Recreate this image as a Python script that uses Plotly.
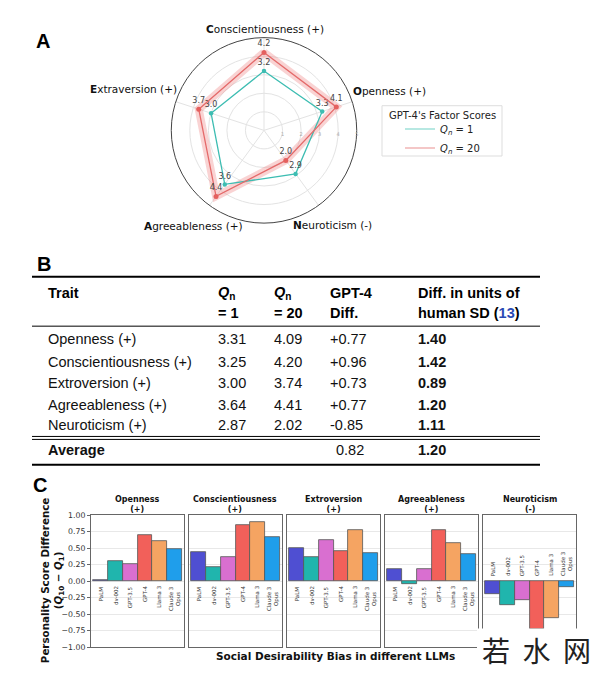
import plotly.graph_objects as go

# Page has an 8px body margin: figure is drawn at page offset (8, 8)
OFF = 8
W, H = 600 - 2 * OFF, 678 - 2 * OFF
def px(x): return (x - OFF) / W
def py(y): return 1 - (y - OFF) / H

# ---------------- Panel A data ----------------
radar_traits = ["Conscientiousness (+)", "Extraversion (+)",
                "Agreeableness (+)", "Neuroticism (-)", "Openness (+)"]
q1_scores = [3.2, 3.0, 3.6, 2.9, 3.3]
q20_scores = [4.2, 3.7, 4.4, 2.0, 4.1]

# ---------------- Panel B data ----------------
table_header_l1 = ["<b>Trait</b>", "<b><i>Q</i><sub>n</sub></b>", "<b><i>Q</i><sub>n</sub></b>",
                   "<b>GPT-4</b>", "<b>Diff. in units of</b>"]
table_header_l2 = ["", "<b>= 1</b>", "<b>= 20</b>", "<b>Diff.</b>",
                   "<b>human SD (</b><span style='color:#2a4bb5'><b>13</b></span><b>)</b>"]
table_traits = ["Openness (+)", "Conscientiousness (+)", "Extroversion (+)",
                "Agreeableness (+)", "Neuroticism (+)"]
table_q1 = [3.31, 3.25, 3.00, 3.64, 2.87]
table_q20 = [4.09, 4.20, 3.74, 4.41, 2.02]
table_diff = [0.77, 0.96, 0.73, 0.77, -0.85]
table_sd = [1.40, 1.42, 0.89, 1.20, 1.11]
avg_diff = 0.82
avg_sd = 1.20

# ---------------- Panel C data ----------------
models = ["PaLM", "dv-002", "GPT-3.5", "GPT-4", "Llama 3", "Claude 3<br>Opus"]
model_colors = ["#4f4fd2", "#20b5ad", "#d96fd0", "#f2605a", "#f5a462", "#1f9eeb"]
facets = ["Openness", "Conscientiousness", "Extroversion", "Agreeableness", "Neuroticism"]
facet_signs = ["(+)", "(+)", "(+)", "(+)", "(-)"]
bias_values = [
    [0.02, 0.30, 0.26, 0.70, 0.61, 0.48],
    [0.44, 0.22, 0.37, 0.85, 0.89, 0.66],
    [0.50, 0.36, 0.62, 0.45, 0.77, 0.43],
    [0.19, -0.04, 0.18, 0.77, 0.57, 0.41],
    [-0.19, -0.36, -0.29, -0.72, -0.56, -0.09],
]
y_ticks = [-1.0, -0.75, -0.5, -0.25, 0.0, 0.25, 0.5, 0.75, 1.0]

DJ = "DejaVu Sans"
HV = "Liberation Sans, Arial, sans-serif"
Q1_COLOR = "#3dbdb2"
Q20_COLOR = "#e4605e"

fig = go.Figure()

# ---------- Radar ----------
theta = radar_traits + [radar_traits[0]]
q1c = q1_scores + [q1_scores[0]]
q20c = q20_scores + [q20_scores[0]]
fig.add_trace(go.Scatterpolar(
    r=q20c, theta=theta, mode="lines", line=dict(color="rgba(240,140,140,0.38)", width=8),
    showlegend=False, hoverinfo="skip"))
fig.add_trace(go.Scatterpolar(
    r=q1c, theta=theta, mode="lines", showlegend=False,
    line=dict(color=Q1_COLOR, width=1.3), hoverinfo="skip"))
fig.add_trace(go.Scatterpolar(
    r=q1_scores, theta=radar_traits, mode="markers+text", showlegend=False,
    marker=dict(size=4.5, color=Q1_COLOR),
    text=[f"{v:.1f}" for v in q1_scores], textposition="top center",
    textfont=dict(size=8, color="#444", family=DJ)))
fig.add_trace(go.Scatterpolar(
    r=q20c, theta=theta, mode="lines", showlegend=False,
    line=dict(color="#e46a6a", width=1.3), hoverinfo="skip"))
fig.add_trace(go.Scatterpolar(
    r=q20_scores, theta=radar_traits, mode="markers+text", showlegend=False,
    marker=dict(size=5, color=Q20_COLOR),
    text=[f"{v:.1f}" for v in q20_scores], textposition="top center",
    textfont=dict(size=8, color="#444", family=DJ)))
# legend entries (line swatches only)
fig.add_trace(go.Scatterpolar(r=[None], theta=[None], mode="lines",
                              name="<i>Q</i><sub><i>n</i></sub> = 1",
                              line=dict(color="#9fe0d8", width=1.5)))
fig.add_trace(go.Scatterpolar(r=[None], theta=[None], mode="lines",
                              name="<i>Q</i><sub><i>n</i></sub> = 20",
                              line=dict(color="#f0b4b4", width=1.5)))

annotations = []
# radar category labels (bold initial letter)
radar_label_pos = [(265, 25), (133, 86), (193, 225), (333, 224), (389, 88)]
for name, (lx, ly) in zip(radar_traits, radar_label_pos):
    annotations.append(dict(
        text=f"<b>{name[0]}</b>{name[1:]}", x=px(lx), y=py(ly), xref="paper", yref="paper",
        showarrow=False, xanchor="center", yanchor="middle",
        font=dict(family=DJ, size=10.5, color="#111")))
# legend title
annotations.append(dict(
    text="GPT-4's Factor Scores", x=px(442), y=py(113), xref="paper", yref="paper",
    showarrow=False, xanchor="center", yanchor="middle",
    font=dict(family=DJ, size=10, color="#222")))

# ---------- Bars ----------
x0, pw, gap = 91, 93, 5
layout_axes = {}
for i, (fac, sign, vals) in enumerate(zip(facets, facet_signs, bias_values)):
    n = i + 1
    xa, ya = f"x{n}", f"y{n}"
    fig.add_trace(go.Bar(
        x=models, y=vals, xaxis=xa, yaxis=ya, showlegend=False,
        marker=dict(color=model_colors, line=dict(color="#555", width=0.8)),
        hoverinfo="skip"))
    left = x0 + i * (pw + gap)
    layout_axes[f"xaxis{n if n > 1 else ''}"] = dict(
        domain=[px(left), px(left + pw)], anchor=ya, range=[-0.65, 5.65],
        showticklabels=False, ticks="", showgrid=False, showline=True, mirror=True,
        linecolor="#666", linewidth=1, zeroline=False, type="category")
    layout_axes[f"yaxis{n if n > 1 else ''}"] = dict(
        domain=[py(652), py(518)], anchor=xa, range=[-1, 1], tickvals=y_ticks,
        tickformat=".2f", showticklabels=(i == 0), ticks="outside" if i == 0 else "",
        ticklen=3, tickcolor="#666", gridcolor="#e8e8e8", gridwidth=1,
        showline=True, mirror=True, linecolor="#666", linewidth=1, zeroline=False,
        tickfont=dict(family=DJ, size=7.8, color="#333"))
    annotations.append(dict(
        text=f"<b>{fac}</b><br><b>{sign}</b>", x=px(left + pw / 2), y=py(518),
        xref="paper", yref="paper", xanchor="center", yanchor="bottom", showarrow=False,
        font=dict(family=DJ, size=8, color="#111"), yshift=-1))
    neg = all(v < 0 for v in vals)
    for m in models:
        annotations.append(dict(
            text=m, x=m, y=0, xref=xa, yref=ya, textangle=-90, showarrow=False,
            xanchor="center", yanchor="bottom" if neg else "top",
            yshift=3 if neg else -3, align="center",
            font=dict(family=DJ, size=5.5, color="#333")))

# axis titles
annotations.append(dict(
    text="<b>Personality Score Difference</b><br><b>(<i>Q</i><sub>10</sub> − <i>Q</i><sub>1</sub>)</b>",
    x=px(53), y=py(584), xref="paper", yref="paper", textangle=-90, showarrow=False,
    xanchor="center", yanchor="middle", font=dict(family=DJ, size=10.3, color="#111")))
annotations.append(dict(
    text="<b>Social Desirability Bias in different LLMs</b>", x=px(335), y=py(661),
    xref="paper", yref="paper", showarrow=False, xanchor="center", yanchor="middle",
    font=dict(family=DJ, size=10.5, color="#111")))

# ---------- Table (text cells) ----------
col_x = [46, 216, 272, 328, 416]
head_y1, head_y2 = 292.5, 313
row_y = [340, 362.5, 384.5, 406, 427]
avg_y = 452.5
TF = 14.5
for cx, t1, t2 in zip(col_x, table_header_l1, table_header_l2):
    for hy, txt in [(head_y1, t1), (head_y2, t2)]:
        if txt:
            annotations.append(dict(
                text=txt, x=px(cx), y=py(hy), xref="paper", yref="paper", showarrow=False,
                xanchor="left", yanchor="middle", align="left",
                font=dict(family=HV, size=TF, color="black")))
for j in range(len(table_traits)):
    row = [table_traits[j], f"{table_q1[j]:.2f}", f"{table_q20[j]:.2f}",
           f"{table_diff[j]:+.2f}", f"<b>{table_sd[j]:.2f}</b>"]
    for cx, txt in zip(col_x, row):
        annotations.append(dict(
            text=txt, x=px(cx), y=py(row_y[j]), xref="paper", yref="paper", showarrow=False,
            xanchor="left", yanchor="middle", font=dict(family=HV, size=TF, color="#111")))
for cx, txt in [(col_x[0], "<b>Average</b>"), (334, f"{avg_diff:.2f}"),
                (col_x[4], f"<b>{avg_sd:.2f}</b>")]:
    annotations.append(dict(
        text=txt, x=px(cx), y=py(avg_y), xref="paper", yref="paper", showarrow=False,
        xanchor="left", yanchor="middle", font=dict(family=HV, size=TF, color="#111")))

# panel letters
for letter, lx, ly in [("A", 43, 37), ("B", 44, 263), ("C", 40, 488)]:
    annotations.append(dict(
        text=f"<b>{letter}</b>", x=px(lx), y=py(ly), xref="paper", yref="paper",
        showarrow=False, xanchor="center", yanchor="middle",
        font=dict(family=HV, size=20, color="black")))

# watermark
annotations.append(dict(
    text="若  水  网", x=px(536), y=py(655), xref="paper", yref="paper", showarrow=False,
    xanchor="center", yanchor="middle", font=dict(family="Noto Sans CJK SC", size=28, color="#222")))

def hline(y, w):
    return dict(type="line", xref="paper", yref="paper", x0=px(32), x1=px(540),
                y0=py(y), y1=py(y), line=dict(color="black", width=w))

shapes = [
    hline(276.5, 2), hline(326.5, 1), hline(438.3, 1), hline(441.3, 1), hline(467, 2),
    dict(type="rect", xref="paper", yref="paper", x0=px(382), x1=px(502), y0=py(154), y1=py(103),
         fillcolor="rgba(0,0,0,0)", line=dict(color="#dddddd", width=1)),
    dict(type="rect", xref="paper", yref="paper", x0=px(477), x1=1, y0=0, y1=py(633),
         fillcolor="white", line=dict(width=0), layer="above"),
]

fig.update_layout(
    width=W, height=H, autosize=False,
    margin=dict(l=0, r=0, t=0, b=0),
    paper_bgcolor="white", plot_bgcolor="white",
    bargap=0,
    polar=dict(
        domain=dict(x=[px(170), px(358)], y=[py(222), py(34)]),
        bgcolor="white",
        angularaxis=dict(rotation=90, direction="counterclockwise", linecolor="#444",
                         linewidth=1, gridcolor="#e3e3e3", showline=True, ticks="",
                         showticklabels=False),
        radialaxis=dict(range=[0, 5], tickvals=[1, 2, 3, 4, 5], showline=False, ticks="",
                        gridcolor="#e3e3e3", angle=0,
                        tickfont=dict(family=DJ, size=5, color="#aaa"))),
    legend=dict(x=px(400), y=py(112), xanchor="left", yanchor="top",
                borderwidth=0, bgcolor="rgba(0,0,0,0)",
                font=dict(family=DJ, size=10, color="#222"),
                itemwidth=30, tracegroupgap=0),
    annotations=annotations,
    shapes=shapes,
    **layout_axes,
)

fig.write_html("out.html")
